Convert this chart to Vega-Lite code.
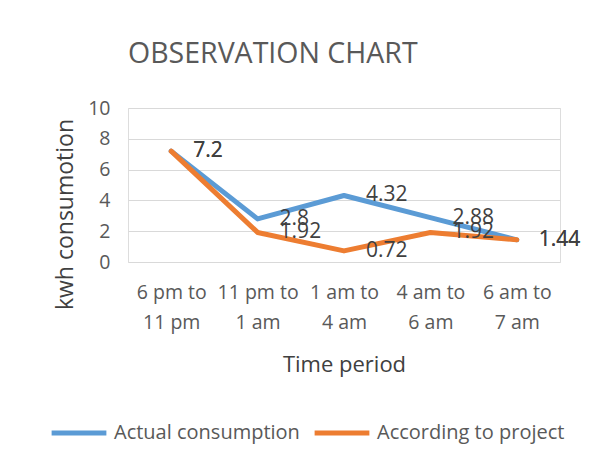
{
  "$schema": "https://vega.github.io/schema/vega-lite/v6.json",
  "autosize": {"type": "none"},
  "width": 432,
  "height": 154,
  "padding": {"left": 128, "top": 108, "right": 41, "bottom": 201},
  "background": "white",
  "title": {
    "text": "OBSERVATION CHART",
    "anchor": "start",
    "frame": "group",
    "fontSize": 28.5,
    "font": "Open Sans",
    "fontWeight": "normal",
    "color": "#595959",
    "offset": 30
  },
  "data": {
    "values": [
      {"period": "6 pm to 11 pm", "series": "Actual consumption", "value": 7.2},
      {"period": "11 pm to 1 am", "series": "Actual consumption", "value": 2.8},
      {"period": "1 am to 4 am", "series": "Actual consumption", "value": 4.32},
      {"period": "4 am to 6 am", "series": "Actual consumption", "value": 2.88},
      {"period": "6 am to 7 am", "series": "Actual consumption", "value": 1.44},
      {"period": "6 pm to 11 pm", "series": "According to project", "value": 7.2},
      {"period": "11 pm to 1 am", "series": "According to project", "value": 1.92},
      {"period": "1 am to 4 am", "series": "According to project", "value": 0.72},
      {"period": "4 am to 6 am", "series": "According to project", "value": 1.92},
      {"period": "6 am to 7 am", "series": "According to project", "value": 1.44}
    ]
  },
  "encoding": {
    "x": {
      "field": "period",
      "type": "nominal",
      "sort": null,
      "scale": {"paddingInner": 0, "paddingOuter": 0},
      "axis": {
        "title": "Time period",
        "titleFont": "Open Sans",
        "titleFontSize": 22,
        "titleFontWeight": "normal",
        "titleColor": "#404040",
        "titlePadding": 23,
        "labelAngle": 0,
        "labelFont": "Open Sans",
        "labelFontSize": 19.5,
        "labelColor": "#595959",
        "labelPadding": 30,
        "labelLineHeight": 30,
        "labelBaseline": "middle",
        "labelExpr": "[split(datum.label, ' to ')[0] + ' to', split(datum.label, ' to ')[1]]",
        "domain": false,
        "ticks": false,
        "grid": false
      }
    },
    "y": {
      "field": "value",
      "type": "quantitative",
      "scale": {"domain": [0, 10]},
      "axis": {
        "title": "kwh consumotion",
        "titleFont": "Open Sans",
        "titleFontSize": 23,
        "titleFontWeight": "normal",
        "titleColor": "#404040",
        "titleAngle": -90,
        "titleX": -63,
        "titleY": 106,
        "titleAlign": "center",
        "titleBaseline": "middle",
        "values": [0, 2, 4, 6, 8, 10],
        "labelFont": "Open Sans",
        "labelFontSize": 19.5,
        "labelColor": "#595959",
        "labelPadding": 18,
        "domain": false,
        "ticks": false,
        "grid": true,
        "gridColor": "#D9D9D9",
        "gridWidth": 1
      }
    }
  },
  "layer": [
    {
      "mark": {"type": "line", "strokeWidth": 5, "strokeJoin": "round", "strokeCap": "round"},
      "encoding": {
        "color": {
          "field": "series",
          "type": "nominal",
          "scale": {"domain": ["Actual consumption", "According to project"], "range": ["#5B9BD5", "#ED7D31"]},
          "legend": {
            "title": null,
            "orient": "none",
            "direction": "horizontal",
            "columns": 2,
            "legendX": -79,
            "legendY": 295,
            "symbolType": "stroke",
            "symbolSize": 3000,
            "symbolStrokeWidth": 5,
            "labelFont": "Open Sans",
            "labelFontSize": 20,
            "labelLimit": 400,
            "labelColor": "#595959",
            "labelOffset": 5,
            "columnPadding": 4
          }
        }
      }
    },
    {
      "mark": {"type": "text", "align": "left", "baseline": "middle", "dx": 22, "font": "Open Sans", "fontSize": 21, "color": "#404040"},
      "encoding": {
        "text": {"field": "value", "type": "quantitative"}
      }
    }
  ]
}
